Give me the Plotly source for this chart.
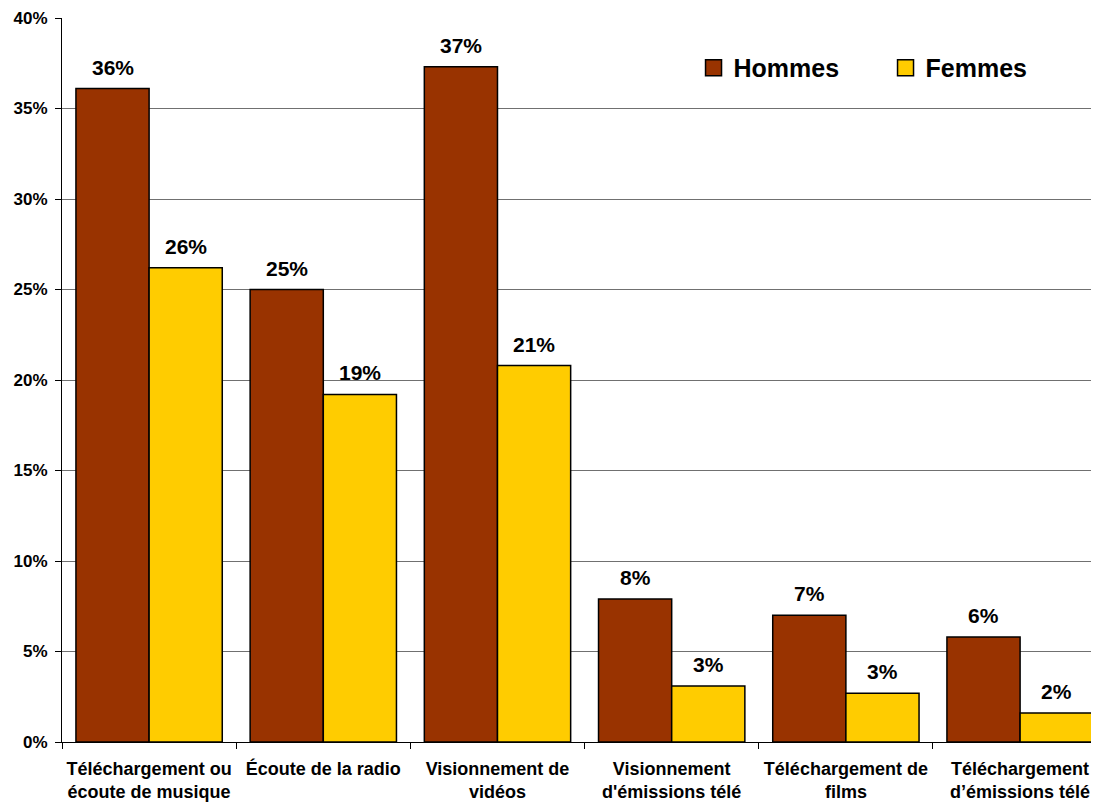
import plotly.graph_objects as go

categories = ["Téléchargement ou<br>écoute de musique", "Écoute de la radio", "Visionnement de<br>vidéos",
              "Visionnement<br>d'émissions télé", "Téléchargement de<br>films", "Téléchargement<br>d’émissions télé"]
hommes = [36.1, 25.0, 37.3, 7.9, 7.0, 5.8]
femmes = [26.2, 19.2, 20.8, 3.1, 2.7, 1.6]
series_names = ["Hommes", "Femmes"]
colors = ["#993300", "#FFCC00"]
yticks = [0, 5, 10, 15, 20, 25, 30, 35, 40]

FONT = "Liberation Sans, Arial, sans-serif"

fig = go.Figure()
for name, vals, col in zip(series_names, [hommes, femmes], colors):
    fig.add_trace(go.Bar(x=categories, y=vals, name=name, marker=dict(color=col, line=dict(color="black", width=1.5)),
                         showlegend=False))
    fig.add_trace(go.Scatter(x=[None], y=[None], mode="markers", name=name,
                             marker=dict(symbol="square", size=16, color=col, line=dict(color="black", width=1.5))))

for vals, shift in [(hommes, -36.5), (femmes, 36.5)]:
    for c, v in zip(categories, vals):
        fig.add_annotation(x=c, y=v, xshift=shift, yshift=8, yanchor="bottom", showarrow=False,
                           text=f"{round(v)}%", font=dict(family=FONT, size=21, color="black", weight="bold"))

fig.update_layout(
    width=1091, height=794,
    margin=dict(l=54, r=0, t=10, b=60, autoexpand=False),
    plot_bgcolor="white", paper_bgcolor="white",
    barmode="group", bargap=0.16, bargroupgap=0,
    font=dict(family=FONT, color="black"),
    legend=dict(orientation="h", x=0.609, xanchor="left", y=0.931, yanchor="middle",
                font=dict(family=FONT, size=25, color="black", weight="bold"),
                itemsizing="trace", entrywidth=147, entrywidthmode="pixels", traceorder="normal",
                bgcolor="rgba(0,0,0,0)"),
)
fig.update_xaxes(range=[-0.5, 5.453], showline=True, linecolor="black", linewidth=1, automargin=False,
                 ticks="outside", tickson="boundaries", ticklen=6, tickcolor="black", ticklabelstandoff=10,
                 tickfont=dict(family=FONT, size=18, color="black", weight="bold"), showgrid=False)
fig.update_yaxes(range=[0, 40], tickvals=yticks, ticktext=[f"{t}%" for t in yticks], automargin=False,
                 showline=True, linecolor="black", linewidth=1, ticks="outside", ticklen=6, tickcolor="black",
                 ticklabelstandoff=4,
                 showgrid=True, gridcolor="#707070", gridwidth=1, zeroline=False,
                 tickfont=dict(family=FONT, size=17, color="black", weight="bold"))

fig.write_html("out.html")
